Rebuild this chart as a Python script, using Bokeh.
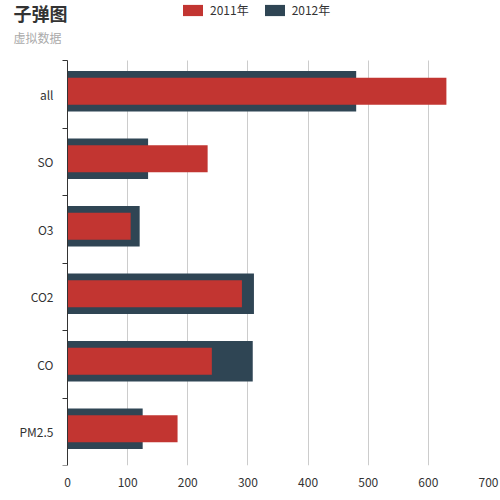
from bokeh.plotting import figure
from bokeh.models import (ColumnDataSource, Range1d, FixedTicker,
                          SingleIntervalTicker, Label, Legend, LegendItem)
from bokeh.transform import dodge
from bokeh.embed import file_html
from bokeh.resources import INLINE

# bullet chart data, bottom to top
cats = ["PM2.5", "CO", "CO2", "O3", "SO", "all"]
y2011 = [183, 240, 290, 105, 233, 630]
y2012 = [125, 308, 310, 120, 134, 480]

FONT = "Noto Sans CJK SC"
RED = "#c23531"
DARK = "#2f4554"

ypos = [i + 0.5 for i in range(len(cats))]
bounds = [i for i in range(len(cats) + 1)]
n = len(cats)
xmax = 700

source = ColumnDataSource(dict(y=ypos, y2011=y2011, y2012=y2012))

# the frame covers the whole canvas but the x labels: the bars sit 67px from
# the left and 60px below the top, so the header lives inside the frame too
left = -xmax * 67 / 421
top = n * 465 / 405

p = figure(width=500, height=500, output_backend="svg", toolbar_location=None,
           tools="", title=None, x_range=Range1d(left, xmax),
           y_range=Range1d(0, top),
           min_border_left=0, min_border_right=12, min_border_top=0,
           min_border_bottom=35)
p.outline_line_color = None

# wide dark bar for 2012, narrow red bar for 2011 on top
# (echarts draws the pair a touch above the band centre)
ydodge = dodge("y", 0.044)
b12 = p.hbar(y=ydodge, left=0, right="y2012", height=0.6, source=source,
             fill_color=DARK, line_color=None)
b11 = p.hbar(y=ydodge, left=0, right="y2011", height=0.4, source=source,
             fill_color=RED, line_color=None)

# grid, only over the bars
p.ygrid.grid_line_color = None
p.xgrid.grid_line_color = "#cccccc"
p.xgrid.ticker = SingleIntervalTicker(interval=100)
p.xgrid.bounds = (0, xmax)
p.xgrid.cross_bounds = (0, n)

# x axis: labels only
p.xaxis.ticker = SingleIntervalTicker(interval=100)
p.xaxis.bounds = (0, xmax)
p.xaxis.axis_line_color = None
p.xaxis.major_tick_line_color = None
p.xaxis.minor_tick_line_color = None
p.xaxis.major_label_text_font = FONT
p.xaxis.major_label_text_font_size = "12px"
p.xaxis.major_label_text_color = "#333333"
p.xaxis.major_label_standoff = 6

# y axis at x=0: labels at band centres, ticks at band boundaries
p.yaxis.fixed_location = 0
p.yaxis.bounds = (0, n)
p.yaxis.ticker = FixedTicker(ticks=ypos, minor_ticks=bounds)
p.yaxis.major_label_overrides = {v: c for v, c in zip(ypos, cats)}
p.yaxis.axis_line_color = "#333333"
p.yaxis.major_tick_line_color = None
p.yaxis.major_tick_out = 0
p.yaxis.major_tick_in = 0
p.yaxis.minor_tick_line_color = "#333333"
p.yaxis.minor_tick_out = 5
p.yaxis.minor_tick_in = 0
p.yaxis.major_label_text_font = FONT
p.yaxis.major_label_text_font_size = "12px"
p.yaxis.major_label_text_color = "#333333"
p.yaxis.major_label_standoff = 9

# title and subtitle (screen units, from the frame's bottom-left)
p.add_layout(Label(x=13, y=453, x_units="screen", y_units="screen",
                   text="子弹图", text_font=FONT, text_font_size="18px",
                   text_font_style="bold", text_color="#333333",
                   text_baseline="middle"))
p.add_layout(Label(x=13, y=428, x_units="screen", y_units="screen",
                   text="虚拟数据", text_font=FONT, text_font_size="12px",
                   text_color="#aaaaaa", text_baseline="middle"))

# legend at the top centre
legend = Legend(items=[LegendItem(label="2011年", renderers=[b11]),
                       LegendItem(label="2012年", renderers=[b12])],
                location=(180, 447), orientation="horizontal")
legend.glyph_width = 25
legend.glyph_height = 14
legend.label_height = 14
legend.label_standoff = 5
legend.spacing = 13
legend.padding = 0
legend.margin = 0
legend.border_line_color = None
legend.background_fill_alpha = 0
legend.label_text_font = FONT
legend.label_text_font_size = "12px"
legend.label_text_color = "#333333"
p.add_layout(legend, "center")

open("out.html", "w").write(file_html(p, INLINE))
